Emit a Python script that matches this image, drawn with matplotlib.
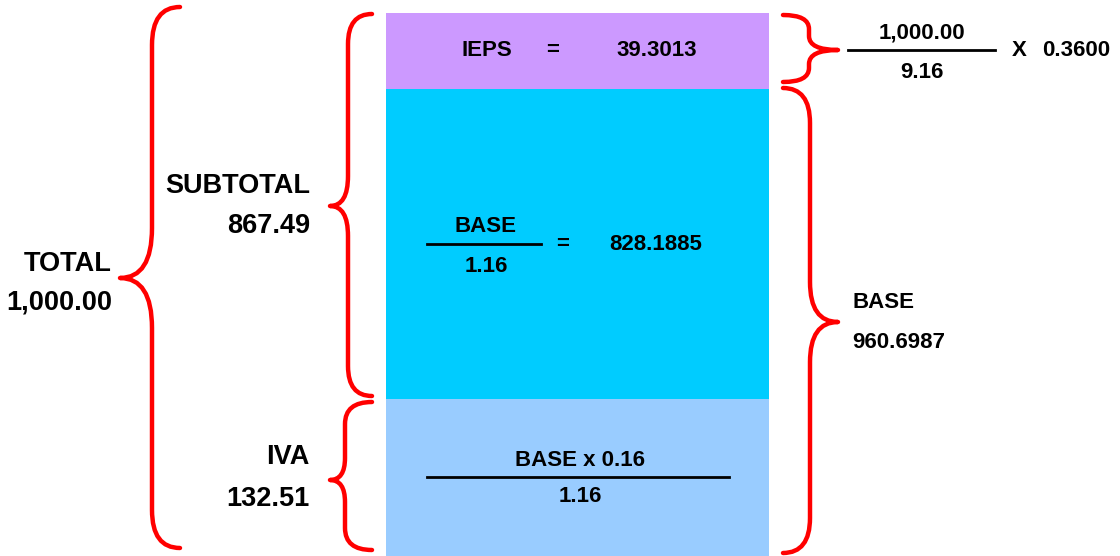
import numpy as np
import matplotlib
matplotlib.use("Agg")
import matplotlib.pyplot as plt
from matplotlib.path import Path
from matplotlib.patches import PathPatch

plt.rcParams['font.family'] = ['Liberation Sans', 'DejaVu Sans']
plt.rcParams['font.weight'] = 'bold'

# data
segments = ['IEPS', 'BASE / 1.16', 'IVA']
seg_values = [39.3013, 828.1885, 132.51]
seg_colors = ['#CC99FF', '#00CCFF', '#99CCFF']
total = 1000.00
subtotal = 867.49
iva = 132.51
base = 960.6987
ieps_rate = 0.36
ieps_div = 9.16
iva_div = 1.16
iva_rate = 0.16

# layout (pixels)
bar_left, bar_right = 386, 769
seg_tops = [13, 89, 399]
seg_bottoms = [89, 399, 556]

fig = plt.figure(figsize=(11.2, 5.56), dpi=100)
ax = fig.add_axes([0, 0, 1, 1])
ax.set_xlim(0, 1120)
ax.set_ylim(556, 0)
ax.axis('off')

# stacked boxes
for name, top, bot, c in zip(segments, seg_tops, seg_bottoms, seg_colors):
    ax.bar((bar_left + bar_right) / 2, bot - top, width=bar_right - bar_left,
           bottom=top, color=c, edgecolor='none')


def brace(xe, xs, xt, ytop, ybot, ytip, r_end, r_tip, lw=3.2):
    verts = [(xe, ytop), (xs, ytop), (xs, ytop + r_end),
             (xs, ytip - r_tip), (xs, ytip), (xt, ytip),
             (xs, ytip), (xs, ytip + r_tip),
             (xs, ybot - r_end), (xs, ybot), (xe, ybot)]
    codes = [Path.MOVETO, Path.CURVE3, Path.CURVE3,
             Path.LINETO, Path.CURVE3, Path.CURVE3,
             Path.CURVE3, Path.CURVE3,
             Path.LINETO, Path.CURVE3, Path.CURVE3]
    ax.add_patch(PathPatch(Path(verts, codes), fill=False, edgecolor='#FF0000',
                           lw=lw, capstyle='round', joinstyle='round'))


brace(180, 152, 120, 7, 548, 278, 38, 50)
brace(372, 348, 330, 14, 396, 206, 30, 30)
brace(372, 345, 330, 402, 550, 480, 22, 22)
brace(783, 809, 838, 15, 82, 50, 14, 14)
brace(783, 810, 838, 88, 553, 322, 35, 40)

big = 19.5
mid = 16

# left labels
ax.text(112, 264, 'TOTAL', ha='right', va='center', fontsize=big)
ax.text(112, 302, f'{total:,.2f}', ha='right', va='center', fontsize=big)
ax.text(310, 186, 'SUBTOTAL', ha='right', va='center', fontsize=big)
ax.text(310, 226, f'{subtotal:,.2f}', ha='right', va='center', fontsize=big)
ax.text(310, 457, 'IVA', ha='right', va='center', fontsize=big)
ax.text(310, 499, f'{iva:,.2f}', ha='right', va='center', fontsize=big)

# IEPS row
ax.text(487, 50, segments[0], ha='center', va='center', fontsize=mid)
ax.text(553, 50, '=', ha='center', va='center', fontsize=mid)
ax.text(657, 50, f'{seg_values[0]:.4f}', ha='center', va='center', fontsize=mid)

# base / 1.16
ax.text(486, 227, 'BASE', ha='center', va='center', fontsize=mid)
ax.plot([427, 541], [244, 244], color='black', lw=2)
ax.text(486, 266, f'{iva_div:.2f}', ha='center', va='center', fontsize=mid)
ax.text(563, 244, '=', ha='center', va='center', fontsize=mid)
ax.text(656, 244, f'{seg_values[1]:.4f}', ha='center', va='center', fontsize=mid)

# IVA formula
ax.text(580, 460, f'BASE x {iva_rate:.2f}', ha='center', va='center', fontsize=mid)
ax.plot([427, 729], [477, 477], color='black', lw=2)
ax.text(580, 497, f'{iva_div:.2f}', ha='center', va='center', fontsize=mid)

# right side
ax.text(922, 33, f'{total:,.2f}', ha='center', va='center', fontsize=mid)
ax.plot([848, 995], [50, 50], color='black', lw=2)
ax.text(922, 72, f'{ieps_div:.2f}', ha='center', va='center', fontsize=mid)
ax.text(1019, 50, 'X', ha='center', va='center', fontsize=mid)
ax.text(1110, 50, f'{ieps_rate:.4f}', ha='right', va='center', fontsize=mid)
ax.text(852, 303, 'BASE', ha='left', va='center', fontsize=mid)
ax.text(852, 342, f'{base:.4f}', ha='left', va='center', fontsize=mid)

fig.savefig('out.png', dpi=100, facecolor='white')
